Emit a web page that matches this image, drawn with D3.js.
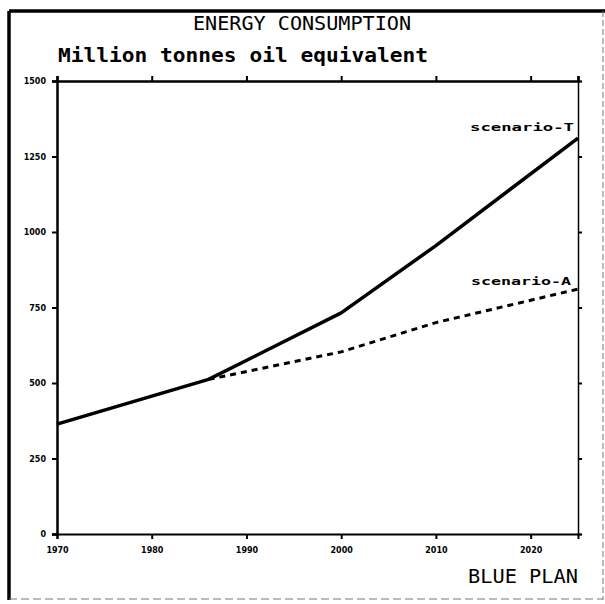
<!DOCTYPE html>
<html>
<head>
<meta charset="utf-8">
<script src="https://cdn.jsdelivr.net/npm/d3@7"></script>
<style>
  body { margin: 0; background: #fff; }
  svg { display: block; }
</style>
</head>
<body>
<script>
var width = 605,
    height = 604

// data
var years = [1970, 1986, 2000, 2010, 2025]
var scenarioT = [364, 512, 732, 955, 1311]
var scenarioA = [null, 512, 603, 700, 811]
var yTicks = [0, 250, 500, 750, 1000, 1250, 1500]
var xTicks = [1970, 1980, 1990, 2000, 2010, 2020]

var svg = d3.select("body").append("svg")
    .attr("width", width)
    .attr("height", height);

var x = d3.scaleLinear().domain([1970, 2025]).range([57, 578]);
var y = d3.scaleLinear().domain([0, 1500]).range([534, 81]);

// outer frame (thick left/top, light right/bottom like the scan)
svg.append("line").attr("x1", 9).attr("y1", 11).attr("x2", 605).attr("y2", 11)
    .attr("stroke", "#000").attr("stroke-width", 3.5);
svg.append("line").attr("x1", 9).attr("y1", 11).attr("x2", 9).attr("y2", 600)
    .attr("stroke", "#000").attr("stroke-width", 3.5);
svg.append("line").attr("x1", 603).attr("y1", 11).attr("x2", 603).attr("y2", 600)
    .attr("stroke", "#777").attr("stroke-width", 1).attr("stroke-dasharray", "6,3");
svg.append("line").attr("x1", 9).attr("y1", 599).attr("x2", 603).attr("y2", 599)
    .attr("stroke", "#777").attr("stroke-width", 1).attr("stroke-dasharray", "8,4");

// titles
svg.append("text")
    .attr("x", 302).attr("y", 30)
    .attr("text-anchor", "middle")
    .attr("textLength", 218).attr("lengthAdjust", "spacingAndGlyphs")
    .style("font-family", "DejaVu Sans Mono")
    .style("font-size", "19px")
    .text("ENERGY CONSUMPTION");

svg.append("text")
    .attr("x", 58).attr("y", 62)
    .attr("textLength", 370).attr("lengthAdjust", "spacingAndGlyphs")
    .style("font-family", "DejaVu Sans Mono")
    .style("font-weight", "bold")
    .style("font-size", "19px")
    .text("Million tonnes oil equivalent");

svg.append("text")
    .attr("x", 578).attr("y", 583)
    .attr("text-anchor", "end")
    .attr("textLength", 110).attr("lengthAdjust", "spacingAndGlyphs")
    .style("font-family", "DejaVu Sans Mono")
    .style("font-size", "19px")
    .text("BLUE PLAN");

// axes
var axLeft = svg.append("g").attr("transform", "translate(" + x(1970) + ",0)")
    .call(d3.axisLeft(y).tickValues(yTicks).tickSize(5).tickPadding(6).tickFormat(d3.format("d")));
var axBottom = svg.append("g").attr("transform", "translate(0," + y(0) + ")")
    .call(d3.axisBottom(x).tickValues(xTicks).tickSize(5).tickPadding(8).tickFormat(d3.format("d")));
var axTop = svg.append("g").attr("transform", "translate(0," + y(1500) + ")")
    .call(d3.axisTop(x).tickValues(xTicks.concat([2025])).tickSize(5).tickFormat(""));
var axRight = svg.append("g").attr("transform", "translate(" + x(2025) + ",0)")
    .call(d3.axisRight(y).tickValues(yTicks).tickSize(4).tickFormat(""));

[axLeft, axBottom, axTop, axRight].forEach(function(g) {
    g.selectAll(".domain").attr("stroke", "#000");
    g.selectAll("line").attr("stroke", "#000").attr("stroke-width", 2);
    g.selectAll("text")
        .style("font-family", "DejaVu Sans")
        .style("font-weight", "bold")
        .style("font-size", "8px")
        .attr("fill", "#000");
});
axLeft.select(".domain").attr("stroke-width", 2.5);
axTop.select(".domain").attr("stroke-width", 2.5);
axBottom.select(".domain").attr("stroke-width", 2);
axRight.select(".domain").attr("stroke-width", 1.5);

// series
var line = d3.line()
    .defined(function(d) { return d[1] != null; })
    .x(function(d) { return x(d[0]); })
    .y(function(d) { return y(d[1]); });

svg.append("path")
    .datum(d3.zip(years, scenarioA))
    .attr("fill", "none")
    .attr("stroke", "#000")
    .attr("stroke-width", 3)
    .attr("stroke-dasharray", "6,5")
    .attr("d", line);

svg.append("path")
    .datum(d3.zip(years, scenarioT))
    .attr("fill", "none")
    .attr("stroke", "#000")
    .attr("stroke-width", 3.5)
    .attr("stroke-linejoin", "round")
    .attr("d", line);

// series labels
svg.append("text")
    .attr("x", 574).attr("y", 131)
    .attr("text-anchor", "end")
    .attr("textLength", 104).attr("lengthAdjust", "spacingAndGlyphs")
    .style("font-family", "DejaVu Sans Mono")
    .style("font-weight", "bold")
    .style("font-size", "11px")
    .text("scenario-T");

svg.append("text")
    .attr("x", 571).attr("y", 285)
    .attr("text-anchor", "end")
    .attr("textLength", 100).attr("lengthAdjust", "spacingAndGlyphs")
    .style("font-family", "DejaVu Sans Mono")
    .style("font-weight", "bold")
    .style("font-size", "11px")
    .text("scenario-A");
</script>
</body>
</html>
